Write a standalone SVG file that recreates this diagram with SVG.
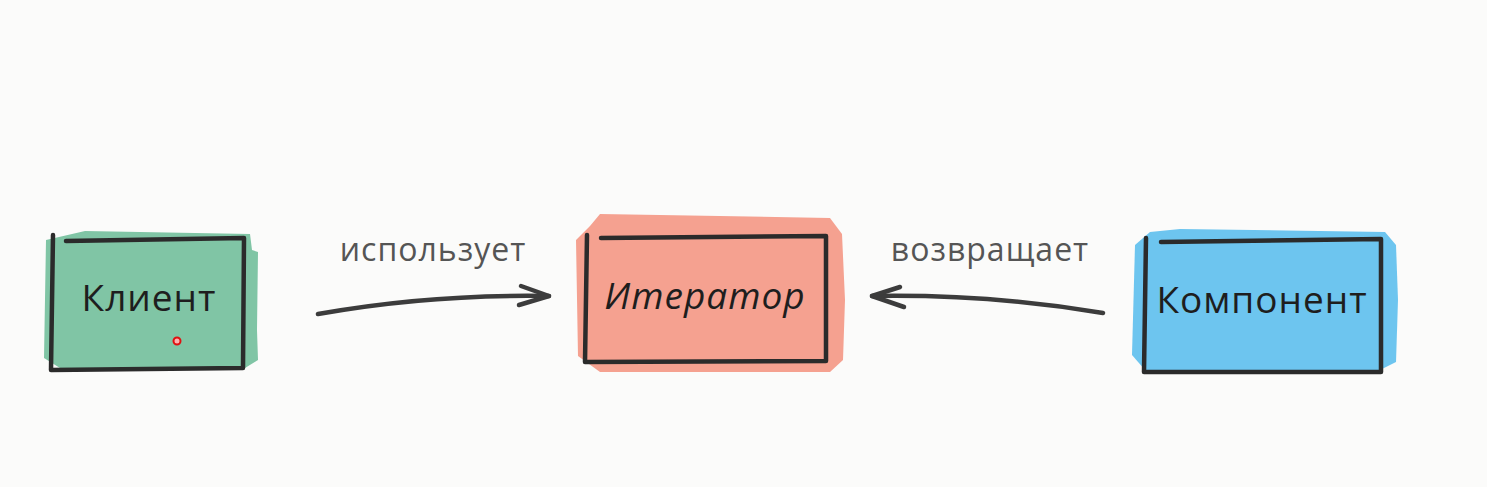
<svg xmlns="http://www.w3.org/2000/svg" width="1487" height="487" viewBox="0 0 1487 487">
<defs>
<style>
.frame{fill:none;stroke:#2b2b2b;stroke-width:4.5;stroke-linecap:round;stroke-linejoin:round}
.label{font-family:"Open Sans","DejaVu Sans",sans-serif;font-size:37px;fill:#1e1e1e;text-anchor:middle;letter-spacing:1px}
.edge{font-family:"Open Sans","DejaVu Sans",sans-serif;font-size:32px;fill:#555;text-anchor:middle;letter-spacing:1px}
.conn{fill:none;stroke:#3c3c3c;stroke-width:4.5;stroke-linecap:round;stroke-linejoin:round}
</style>
</defs>
<rect width="1487" height="487" fill="#fbfbfa"/>
<g id="client">
<path d="M85 231 L250 234 L252 250 L258 252 L257 330 L258 360 L245 368 L60 368 L44 358 L46 240 Z" fill="#80c5a5"/>
<path class="frame" d="M53 235 L51 370 L243 368 L244 238 L66 241"/>
<text class="label" x="149" y="311">Клиент</text>
<circle cx="177" cy="341" r="3.5" fill="#ffb0b0" stroke="#e01010" stroke-width="2"/>
</g>
<g id="iterator">
<path d="M600 214 L830 218 L842 234 L845 300 L843 360 L830 372 L600 372 L578 356 L576 240 L590 226 Z" fill="#f5a190"/>
<path class="frame" d="M587 235 L585 362 L826 361 L826 236 L601 238"/>
<text class="label" x="705" y="309" font-style="italic">Итератор</text>
</g>
<g id="component">
<path d="M1180 229 L1385 232 L1396 245 L1398 300 L1396 362 L1380 370 L1145 370 L1132 355 L1135 245 L1150 232 Z" fill="#6dc5ef"/>
<path class="frame" d="M1146 238 L1144 372 L1381 372 L1381 239 L1161 242"/>
<text class="label" x="1262" y="313">Компонент</text>
</g>
<g id="connectors">
<path class="conn" d="M318 314 Q430 294 549 296"/>
<path class="conn" d="M521 286 L549 296 L519 305"/>
<text class="edge" x="433" y="261">использует</text>
<path class="conn" d="M1103 313 Q990 294 872 296"/>
<path class="conn" d="M900 287 L872 296 L904 307"/>
<text class="edge" x="990" y="261">возвращает</text>
</g>
</svg>
